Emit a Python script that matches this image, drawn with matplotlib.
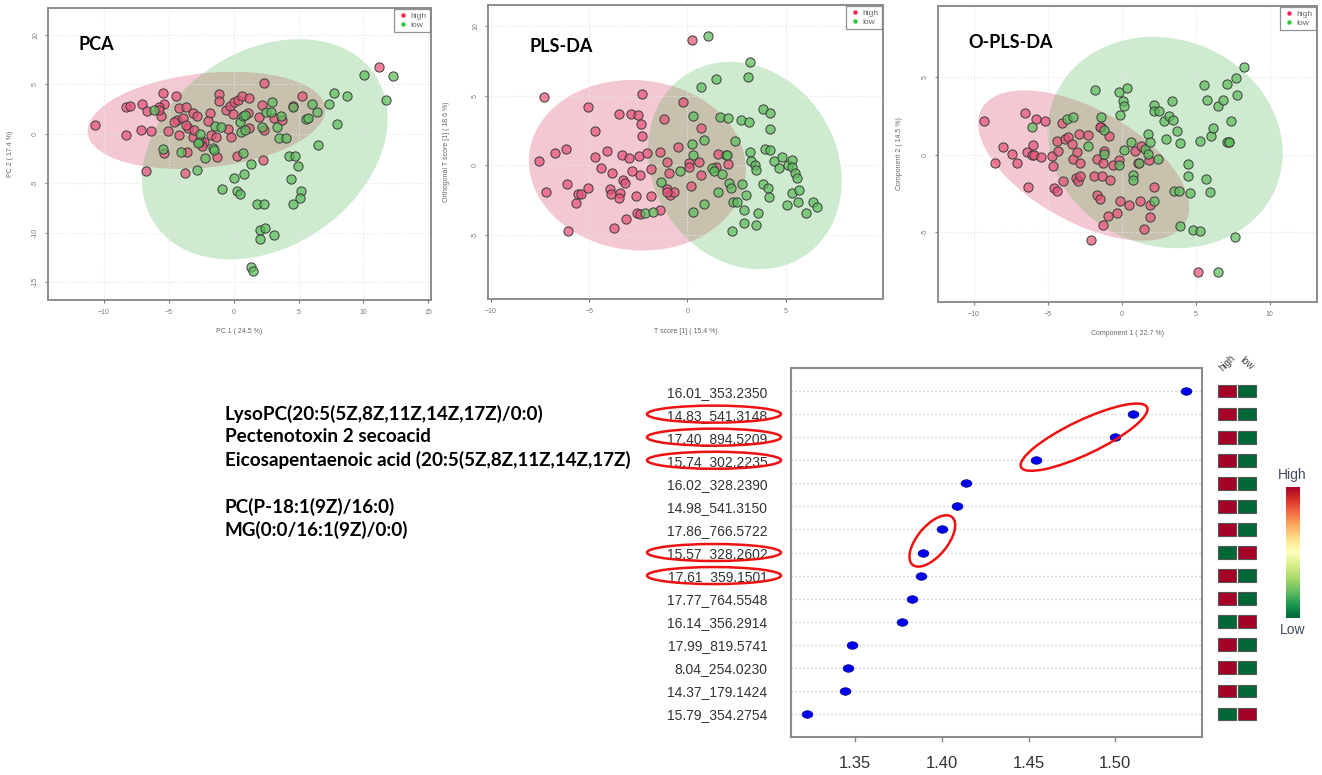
import numpy as np
import matplotlib.pyplot as plt
from matplotlib.lines import Line2D
from matplotlib.patches import Ellipse
from matplotlib.path import Path

# ---------------- score plots (x, y) ----------------
pca_high = [(-10.70, 0.91), (-8.30, -0.17), (-8.30, 2.74), (-7.99, 2.84), (-7.09, 2.97), (-7.14, 0.34),
            (-6.65, 2.33), (-6.37, 0.27), (-6.73, -3.75), (-5.44, 4.09), (-5.36, 3.04), (-5.77, 2.67),
            (-5.59, 1.76), (-4.41, 3.78), (-5.03, 0.27), (-4.20, 2.64), (-4.20, -0.14), (-3.76, -3.92),
            (-3.69, 2.74), (-3.58, -1.89), (-5.39, -1.99), (-4.33, 1.39), (-3.94, 1.55), (-3.51, 0.61),
            (-3.17, 2.13), (-3.12, -0.30), (-2.81, 1.82), (-2.53, -0.74), (-2.27, -0.81), (-1.83, 2.06),
            (-1.98, 1.32), (-1.73, -0.14), (-1.29, -2.33), (-1.13, 3.99), (-1.13, 3.31), (-0.59, 2.40),
            (-0.31, 2.84), (0.05, 3.24), (0.31, 3.41), (0.62, 3.82), (1.19, 3.65), (-0.03, 1.99),
            (-0.44, 0.44), (-0.23, -0.34), (0.26, -2.30), (1.16, 0.54), (1.13, 2.06), (1.98, 1.66),
            (2.37, 5.10), (2.27, -2.70), (2.37, 0.37), (2.22, 2.91), (3.14, 1.62), (3.76, 1.39),
            (4.56, 2.80), (5.23, 3.85), (11.16, 6.76), (-2.45, -1.22), (-1.37, -0.37), (-3.04, 0.37),
            (-3.69, 0.88), (-4.59, 1.22), (-5.75, 2.40)]
pca_low = [(-6.16, 2.40), (-5.44, -1.55), (-4.07, -1.82), (-2.86, -3.68), (-2.65, -0.81), (-2.60, -0.03),
           (-2.22, -2.50), (-1.57, -1.49), (-1.49, -1.66), (-1.42, 0.78), (-0.98, 0.64), (0.57, 0.20),
           (0.46, 1.22), (0.75, 1.82), (0.90, 1.89), (0.75, -1.99), (0.05, -4.43), (0.82, -4.09),
           (-0.93, -5.61), (0.26, -5.78), (0.52, -6.11), (1.34, -3.01), (1.80, -7.06), (2.32, -7.06),
           (2.06, -9.76), (2.42, -9.53), (2.06, -10.61), (3.14, -10.20), (1.34, -13.48), (1.47, -13.82),
           (2.19, 0.71), (2.50, 2.23), (2.94, 3.24), (2.89, 2.23), (3.35, 0.71), (3.61, 1.82),
           (3.53, -0.47), (4.00, -0.41), (4.30, -2.23), (4.69, -2.23), (4.38, -4.53), (4.95, -3.28),
           (5.21, -5.78), (5.08, -6.49), (4.59, -7.13), (4.56, 2.74), (5.54, 1.49), (5.75, 1.55),
           (6.06, 2.97), (6.39, 2.16), (6.49, -1.18), (7.32, 3.01), (7.76, 4.09), (7.99, 0.98),
           (8.71, 3.78), (10.05, 5.95), (11.73, 3.38), (12.27, 5.78), (0.90, 0.37), (-2.71, -0.98)]

pls_high = [(-7.55, 0.29), (-7.31, 4.93), (-7.18, -1.89), (-6.74, 0.91), (-6.20, 1.15), (-6.13, -1.36),
            (-6.10, -4.74), (-5.68, -2.68), (-5.59, -2.08), (-5.42, -2.08), (-5.07, 4.16), (-5.05, -1.60),
            (-4.73, 2.44), (-4.73, 0.57), (-4.39, -0.22), (-4.07, 1.05), (-3.94, -1.67), (-3.87, -2.06),
            (-3.82, -0.53), (-3.75, -4.50), (-3.46, 3.71), (-3.45, -1.99), (-3.48, -2.32), (-3.34, 0.72),
            (-3.26, -1.05), (-3.19, -1.24), (-3.13, -3.88), (-2.96, 0.55), (-2.89, 3.68), (-2.82, -0.41),
            (-2.60, -2.18), (-2.57, -3.44), (-2.50, 3.61), (-2.45, 0.67), (-2.43, -0.69), (-2.42, -3.52),
            (-2.38, 2.97), (-2.33, 5.14), (-2.31, 2.13), (-2.04, 0.86), (-1.88, -0.24), (-1.88, -2.18),
            (-1.40, 0.93), (-1.42, -3.21), (-1.20, 3.30), (-1.03, 0.26), (-0.93, -0.57), (-1.03, -1.70),
            (-0.90, -2.15), (-0.66, -1.94), (-0.47, 1.32), (-0.24, 4.52), (0.07, 0.14), (0.07, -0.10),
            (0.20, -1.48), (0.24, 9.00), (0.59, 0.22), (0.71, -0.69), (0.71, 2.66), (1.55, 0.81),
            (1.47, -0.10), (2.08, 0.10), (-1.06, -1.89)]
pls_low = [(-1.37, -1.17), (-2.18, -3.40), (-1.77, -3.33), (-0.39, -0.43), (0.24, 1.53), (0.27, 0.74),
           (0.27, -3.37), (0.27, 3.54), (0.68, 5.65), (0.84, 1.82), (0.84, -2.78), (1.05, 9.31),
           (1.25, -0.22), (1.33, -0.38), (1.47, 6.17), (1.55, -1.94), (1.64, 3.44), (1.76, -0.62),
           (1.94, 0.77), (2.04, 3.37), (2.11, -1.29), (2.21, -1.65), (2.26, -4.71), (2.30, -2.61),
           (2.40, 1.77), (2.52, -2.66), (2.74, 3.23), (2.77, -1.36), (2.87, -4.11), (2.87, -3.21),
           (2.99, -2.15), (3.06, 6.36), (3.11, 3.13), (3.16, 7.42), (3.19, 0.93), (3.23, 0.33),
           (3.45, 0.00), (3.48, -0.33), (3.50, -4.26), (3.61, -3.44), (3.83, 4.04), (3.83, -1.36),
           (3.97, 1.15), (4.12, -1.65), (4.16, -2.25), (4.21, 3.78), (4.21, 2.61), (4.21, 1.10),
           (4.41, 0.29), (4.66, -0.17), (4.80, 0.57), (5.05, -2.85), (5.12, 0.02), (5.30, 0.41),
           (5.30, -0.14), (5.34, -2.01), (5.49, -0.53), (5.57, -0.89), (5.61, -2.61), (5.69, -1.77),
           (6.01, -3.44), (6.37, -2.66), (6.57, -3.01), (2.01, 0.74)]

opls_high = [(-9.28, 2.16), (-8.58, -0.50), (-8.04, 0.47), (-7.43, 0.06), (-7.09, -0.54), (-6.53, 2.67),
             (-6.40, 0.17), (-6.35, -2.05), (-6.01, 0.63), (-6.08, 0.00), (-5.90, -0.04), (-5.77, 2.31),
             (-5.45, -0.15), (-5.18, 2.16), (-4.73, -0.11), (-4.62, -0.73), (-4.55, -2.16), (-4.37, -2.33),
             (-4.39, 0.86), (-4.28, 0.26), (-4.05, 2.05), (-3.99, -1.68), (-3.81, 1.01), (-3.65, 1.14),
             (-3.38, 0.71), (-3.31, -0.28), (-3.06, -1.49), (-3.02, 0.15), (-2.97, -1.68), (-2.86, 1.36),
             (-2.82, -0.54), (-2.79, -1.34), (-2.27, 1.29), (-2.07, -5.50), (-1.89, -1.40), (-1.67, -0.28),
             (-1.67, -2.59), (-1.46, -2.87), (-1.40, 1.77), (-1.33, -1.36), (-1.28, -4.53), (-1.28, -0.54),
             (-1.17, 0.22), (-0.95, -3.94), (-0.88, 1.19), (-0.81, -1.62), (-0.59, -0.69), (-0.34, -3.73),
             (-0.16, -0.32), (-0.09, -2.97), (0.52, -3.23), (0.90, 0.22), (1.08, -0.54), (1.24, -2.97),
             (1.28, 0.54), (1.49, -4.76), (1.85, -0.32), (1.91, -3.23), (1.91, -4.03), (2.16, -2.07),
             (5.18, -7.54), (-1.44, 1.79)]
opls_low = [(-6.08, 1.77), (-3.72, 2.33), (-3.31, 2.44), (-2.25, 0.54), (-1.78, 4.20), (-1.40, 2.41),
            (-1.22, 1.62), (-1.22, 0.04), (-0.20, 4.03), (-0.09, 2.54), (0.11, 3.49), (0.14, 3.17),
            (0.36, 4.31), (-0.16, -0.69), (0.14, 0.32), (0.63, 0.80), (0.74, -1.29), (0.79, -1.62),
            (1.15, -0.50), (1.60, 0.37), (1.76, 0.06), (1.80, 1.36), (1.94, 0.80), (2.16, -2.97),
            (2.21, 3.23), (2.21, 2.80), (2.50, 2.80), (2.43, -0.28), (2.88, 2.16), (3.00, 1.01),
            (3.22, 2.48), (3.40, 3.49), (3.45, 2.22), (3.56, -2.33), (3.74, 1.55), (3.85, -2.31),
            (3.94, 0.75), (3.94, -4.57), (4.50, -0.58), (4.50, -1.36), (4.64, -2.48), (4.80, -4.85),
            (5.29, -4.89), (5.29, 0.91), (5.59, 4.48), (5.70, -1.57), (5.77, 3.56), (5.97, -2.41),
            (6.04, 1.19), (6.15, 1.70), (6.53, 3.17), (6.53, -7.54), (6.87, 3.51), (7.09, 4.59),
            (7.09, 0.80), (7.27, 0.80), (7.39, 2.16), (7.66, -5.32), (7.75, 4.94), (7.79, 3.84),
            (8.24, 5.65), (7.23, 0.80)]

# confidence ellipses: centre x, centre y, x half-extent, y half-extent, correlation
pca_ell_high = (-2.1, 1.35, 9.15, 4.9, 0.22)
pca_ell_low = (2.4, -1.57, 9.46, 11.13, 0.28)
pls_ell_high = (-2.55, 0.0, 5.52, 6.12, -0.05)
pls_ell_low = (2.92, -0.02, 4.93, 7.44, -0.15)
opls_ell_high = (-2.56, -0.69, 7.13, 4.85, -0.56)
opls_ell_low = (2.94, 0.79, 7.94, 6.82, -0.10)

# ---------------- VIP scores ----------------
vip_labels = ["16.01_353.2350", "14.83_541.3148", "17.40_894.5209", "15.74_302.2235",
              "16.02_328.2390", "14.98_541.3150", "17.86_766.5722", "15.57_328.2602",
              "17.61_359.1501", "17.77_764.5548", "16.14_356.2914", "17.99_819.5741",
              "8.04_254.0230", "14.37_179.1424", "15.79_354.2754"]
vip_scores = [1.541, 1.510, 1.500, 1.454, 1.414, 1.409, 1.400, 1.389,
              1.388, 1.383, 1.377, 1.348, 1.346, 1.344, 1.322]
high_level = [1, 1, 1, 1, 1, 1, 1, 0, 1, 1, 0, 1, 1, 1, 0]   # 1 = high group is higher
circled_labels = [1, 2, 3, 7, 8]
circled_groups = [[1, 2, 3], [6, 7]]
compounds = ["LysoPC(20:5(5Z,8Z,11Z,14Z,17Z)/0:0)", "Pectenotoxin 2 secoacid",
             "Eicosapentaenoic acid (20:5(5Z,8Z,11Z,14Z,17Z)", "",
             "PC(P-18:1(9Z)/16:0)", "MG(0:0/16:1(9Z)/0:0)"]

W, H = 1322, 775
fig = plt.figure(figsize=(W / 100, H / 100), dpi=100)
plt.rcParams['font.family'] = ['Liberation Sans', 'DejaVu Sans']


def px_axes(x0, y0, x1, y1, **kw):
    return fig.add_axes([x0 / W, 1 - y1 / H, (x1 - x0) / W, (y1 - y0) / H], **kw)


ELL_RED = (0.86, 0.23, 0.37, 0.28)
ELL_GREEN = (0.26, 0.69, 0.26, 0.25)
PT_RED = (0.90, 0.32, 0.47, 0.72)
PT_GREEN = (0.36, 0.74, 0.36, 0.72)


def score_panel(ax, high, low, e_high, e_low, xlim, ylim, xticks, yticks,
                xlabel, ylabel, title, title_xy, lab_off):
    t = np.linspace(0, 2 * np.pi, 300)
    for (cx, cy, sx, sy, rho), col in [(e_high, ELL_RED), (e_low, ELL_GREEN)]:
        ax.fill(cx + sx * np.cos(t),
                cy + sy * (rho * np.cos(t) + np.sqrt(1 - rho ** 2) * np.sin(t)),
                color=col, lw=0, zorder=1)
    h = np.array(high)
    l = np.array(low)
    ax.scatter(h[:, 0], h[:, 1], s=44, fc=PT_RED, ec='#3c3c3c', lw=0.7, zorder=3)
    ax.scatter(l[:, 0], l[:, 1], s=44, fc=PT_GREEN, ec='#3c3c3c', lw=0.7, zorder=3)
    ax.set_xlim(*xlim)
    ax.set_ylim(*ylim)
    ax.set_xticks(xticks)
    ax.set_yticks(yticks)
    ax.set_yticklabels([str(v) for v in yticks], rotation=90, va='center')
    ax.tick_params(labelsize=5, colors='#7a7a7a', length=2.5, width=0.8, pad=4)
    ax.set_axisbelow('line')
    ax.grid(color='#e4e4e4', ls=':', lw=0.8)
    for s in ax.spines.values():
        s.set_color('#8c8c8c')
        s.set_linewidth(1.4)
    ax.set_xlabel(xlabel, fontsize=5, color='#666666')
    ax.set_ylabel(ylabel, fontsize=5, color='#666666')
    ax.xaxis.set_label_coords(0.5, lab_off[0])
    ax.yaxis.set_label_coords(lab_off[1], 0.5)
    handles = [Line2D([], [], ls='', marker='o', ms=3.2, mfc='#ff1f4f', mec='none', label='high'),
               Line2D([], [], ls='', marker='o', ms=3.2, mfc='#2ec93a', mec='none', label='low')]
    leg = ax.legend(handles=handles, loc='upper right', fontsize=6, fancybox=False,
                    edgecolor='#777777', borderaxespad=0.12, handletextpad=0.35,
                    borderpad=0.4, labelspacing=0.1, handlelength=1.2)
    leg.get_frame().set_linewidth(0.9)
    for tx in leg.get_texts():
        tx.set_color('#666666')
    ax.text(title_xy[0], title_xy[1], title, family=['Lato', 'DejaVu Sans'],
            fontsize=13, fontweight='bold', ha='left', va='center', zorder=5)


ax1 = px_axes(48, 8, 431, 300)
score_panel(ax1, pca_high, pca_low, pca_ell_high, pca_ell_low, (-14.3, 15.2), (-16.8, 12.7),
            [-10, -5, 0, 5, 10, 15], [-15, -10, -5, 0, 5, 10],
            "PC 1 ( 24.5 %)", "PC 2 ( 17.4 %)", "PCA", (-11.93, 9.0), (-0.096, -0.089))

ax2 = px_axes(488, 5, 883, 299)
score_panel(ax2, pls_high, pls_low, pls_ell_high, pls_ell_low, (-10.15, 9.95), (-9.6, 11.5),
            [-10, -5, 0, 5], [-5, 0, 5, 10],
            "T score [1] ( 15.4 %)", "Orthogonal T score [1] ( 18.6 %)", "PLS-DA",
            (-8.06, 8.55), (-0.099, -0.096))

ax3 = px_axes(938, 6, 1317, 302)
score_panel(ax3, opls_high, opls_low, opls_ell_high, opls_ell_low, (-12.4, 13.2), (-9.5, 9.6),
            [-10, -5, 0, 5, 10], [-5, 0, 5],
            "Component 1 ( 22.7 %)", "Component 2 ( 14.5 %)", "O-PLS-DA",
            (-10.34, 7.25), (-0.095, -0.092))

# ---------------- VIP plot ----------------
rows = np.arange(1, len(vip_labels) + 1)
vip = px_axes(791, 368, 1202, 737)
for r in rows:
    vip.axhline(r, color='#c4c4c4', ls=(0, (1, 2.2)), lw=0.9, zorder=1)
circ = Path.unit_circle()
ell_marker = Path(circ.vertices * np.array([1.0, 0.7]), circ.codes)
vip.scatter(vip_scores, rows, marker=ell_marker, s=60, c='#0000ee', edgecolors='#000088',
            linewidths=0.5, zorder=3)
vip.set_xlim(1.313, 1.55)
vip.set_ylim(16, 0)
vip.set_yticks(rows)
vip.set_yticklabels(vip_labels)
vip.set_xticks([1.35, 1.40, 1.45, 1.50])
vip.set_xticklabels(['1.35', '1.40', '1.45', '1.50'])
vip.tick_params(axis='y', length=0, pad=17, labelsize=10, labelcolor='#333333')
vip.tick_params(axis='x', length=3.5, width=1, color='#888888', pad=10, labelsize=12,
                labelcolor='#333333')
for s in vip.spines.values():
    s.set_color('#8c8c8c')
    s.set_linewidth(1.5)

# high / low heat cells
cmap = plt.get_cmap('RdYlGn_r')
heat = px_axes(1216.4, 368, 1257.6, 737)
lvl = np.array(high_level)
heat.barh(rows, 0.89, left=0.055, height=0.55, color=cmap(lvl.astype(float)),
          edgecolor='#555555', lw=0.8)
heat.barh(rows, 0.89, left=1.055, height=0.55, color=cmap(1.0 - lvl),
          edgecolor='#555555', lw=0.8)
heat.set_xlim(0, 2)
heat.set_ylim(16, 0)
heat.axis('off')
heat.text(0.55, -0.2, 'high', rotation=45, ha='center', va='center', fontsize=7,
          color='#444444', clip_on=False)
heat.text(1.5, -0.2, 'low', rotation=-40, ha='center', va='center', fontsize=7,
          color='#444444', clip_on=False)

cbar = px_axes(1286, 487, 1299.3, 618.3)
cbar.imshow(np.linspace(1, 0, 256)[:, None], aspect='auto', cmap=cmap)
cbar.axis('off')

# ---------------- overlay: annotations in pixel space ----------------
ov = fig.add_axes([0, 0, 1, 1], zorder=10)
ov.set_xlim(0, W)
ov.set_ylim(H, 0)
ov.axis('off')

ov.text(1292, 475, 'High', fontsize=10, color='#3d4b5c', ha='center', va='center')
ov.text(1293, 630, 'Low', fontsize=10, color='#3d4b5c', ha='center', va='center')

line_y = [414, 437, 460, 483, 507, 530]
for name, y in zip(compounds, line_y):
    ov.text(225, y, name, family=['Lato', 'DejaVu Sans'], fontsize=13.6, fontweight='bold',
            ha='left', va='center', color='black')


def to_px(ax, x, y):
    dx, dy = ax.transData.transform((x, y))
    return dx, H - dy


left_px = vip.transAxes.transform((0, 0))[0]
for i in circled_labels:
    _, y = to_px(vip, vip_scores[i], rows[i])
    ov.add_patch(Ellipse((left_px - 77, y), 134, 17, fill=False, ec='#ee1111', lw=1.8))

for grp, (pad_a, b) in zip(circled_groups, [(16, 17), (16, 15)]):
    p0 = np.array(to_px(vip, vip_scores[grp[0]], rows[grp[0]]))
    p1 = np.array(to_px(vip, vip_scores[grp[-1]], rows[grp[-1]]))
    c = (p0 + p1) / 2
    d = p1 - p0
    ang = np.degrees(np.arctan2(d[1], d[0]))
    a = np.hypot(*d) / 2 + pad_a
    ov.add_patch(Ellipse(c, 2 * a, 2 * b, angle=ang, fill=False, ec='#ee1111', lw=1.8))

fig.savefig('out.png', dpi=100)
